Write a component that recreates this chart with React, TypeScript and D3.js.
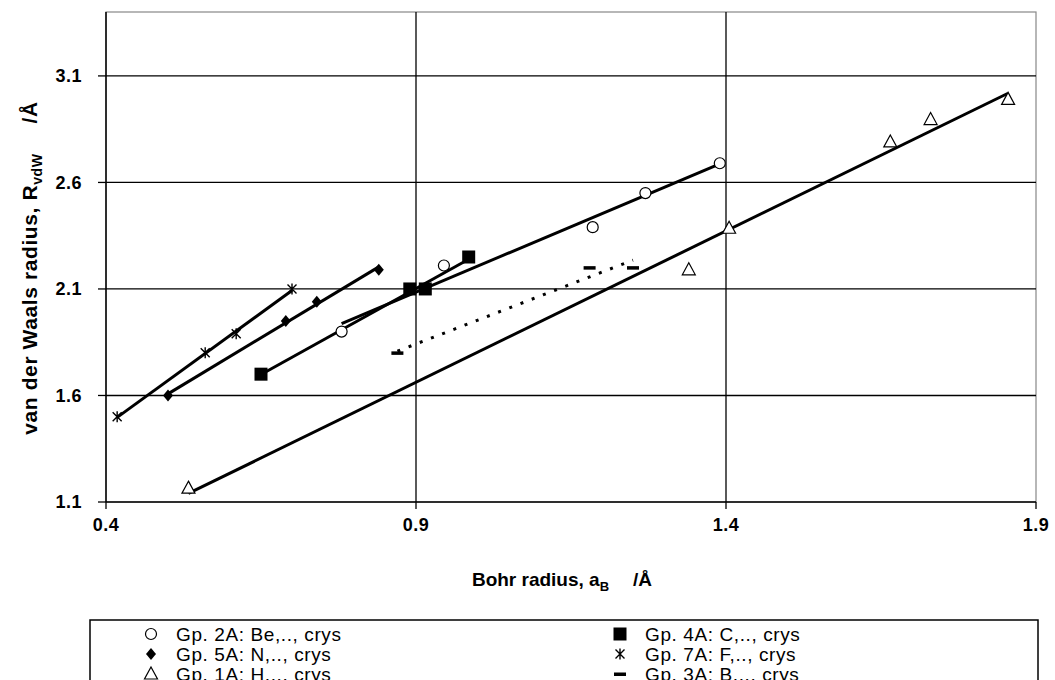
import React from "react";
import * as d3 from "d3";

// axis ticks
const xTicks = [0.4, 0.9, 1.4, 1.9];
const yTicks = [1.1, 1.6, 2.1, 2.6, 3.1];

// series: Bohr radius (x) vs van der Waals radius (y)
const beX = [0.78, 0.945, 1.185, 1.27, 1.39];
const beY = [1.9, 2.21, 2.39, 2.55, 2.69];
const nX = [0.5, 0.69, 0.74, 0.84];
const nY = [1.6, 1.95, 2.04, 2.19];
const hX = [0.533, 1.34, 1.405, 1.665, 1.73, 1.855];
const hY = [1.165, 2.19, 2.385, 2.79, 2.895, 2.99];
const cX = [0.65, 0.89, 0.915, 0.985];
const cY = [1.7, 2.1, 2.1, 2.25];
const fX = [0.418, 0.56, 0.61, 0.7];
const fY = [1.5, 1.8, 1.89, 2.1];
const bX = [0.87, 1.18, 1.25];
const bY = [1.8, 2.2, 2.2];

const series = [
  { label: "Gp. 2A: Be,.., crys", xs: beX, ys: beY, marker: "circle", dotted: false },
  { label: "Gp. 5A: N,.., crys", xs: nX, ys: nY, marker: "diamond", dotted: false },
  { label: "Gp. 1A: H,.., crys", xs: hX, ys: hY, marker: "triangle", dotted: false },
  { label: "Gp. 4A: C,.., crys", xs: cX, ys: cY, marker: "square", dotted: false },
  { label: "Gp. 7A: F,.., crys", xs: fX, ys: fY, marker: "star", dotted: false },
  { label: "Gp. 3A: B,.., crys", xs: bX, ys: bY, marker: "dash", dotted: true },
];

const W = 1055;
const H = 680;
const left = 106, right = 1036, top = 12, bottom = 502;

// least-squares trend line over the range of x
function trend(xs: number[], ys: number[]): [number, number][] {
  const mx = d3.mean(xs)!;
  const my = d3.mean(ys)!;
  let sxx = 0, sxy = 0;
  xs.forEach((x, i) => {
    sxx += (x - mx) * (x - mx);
    sxy += (x - mx) * (ys[i] - my);
  });
  const k = sxy / sxx;
  const [x0, x1] = d3.extent(xs) as [number, number];
  return [[x0, my + k * (x0 - mx)], [x1, my + k * (x1 - mx)]];
}

function Marker({ type, x, y }: { type: string; x: number; y: number }) {
  switch (type) {
    case "circle":
      return <circle cx={x} cy={y} r={5.5} fill="white" stroke="black" strokeWidth={1.2} />;
    case "diamond":
      return <path d={`M${x},${y - 6}L${x + 5},${y}L${x},${y + 6}L${x - 5},${y}Z`} fill="black" />;
    case "triangle":
      return <path d={`M${x},${y - 7}L${x + 6.5},${y + 5}L${x - 6.5},${y + 5}Z`} fill="white" stroke="black" strokeWidth={1.2} />;
    case "square":
      return <rect x={x - 6.5} y={y - 6.5} width={13} height={13} fill="black" />;
    case "star":
      return (
        <path
          d={`M${x - 4.5},${y - 4.5}L${x + 4.5},${y + 4.5}M${x + 4.5},${y - 4.5}L${x - 4.5},${y + 4.5}M${x},${y - 5.5}L${x},${y + 5.5}`}
          stroke="black" strokeWidth={1.4} fill="none" />
      );
    default:
      return <rect x={x - 6} y={y - 1.5} width={12} height={3.5} fill="black" />;
  }
}

export default function App() {
  const x = d3.scaleLinear().domain([0.4, 1.9]).range([left, right]);
  const y = d3.scaleLinear().domain([1.1, 3.4]).range([bottom, top]);
  const line = d3.line<[number, number]>().x((d) => x(d[0])).y((d) => y(d[1]));

  const font = "'Liberation Sans', Arial, sans-serif";

  return (
    <svg width={W} height={H} style={{ position: "absolute", left: 0, top: 0, background: "white" }}
      fontFamily={font}>
      <rect x={0} y={0} width={W} height={H} fill="white" />

      {/* plot frame */}
      <rect x={left} y={top} width={right - left} height={bottom - top} fill="none" stroke="#888" strokeWidth={1.2} />

      {/* grid */}
      {yTicks.slice(1).map((t) => (
        <line key={"gy" + t} x1={left} x2={right} y1={y(t)} y2={y(t)} stroke="black" strokeWidth={1.3} />
      ))}
      {xTicks.slice(1, -1).map((t) => (
        <line key={"gx" + t} x1={x(t)} x2={x(t)} y1={top} y2={bottom} stroke="black" strokeWidth={1.3} />
      ))}

      {/* axes */}
      <line x1={left} x2={left} y1={top} y2={bottom} stroke="black" strokeWidth={1.5} />
      <line x1={left} x2={right} y1={bottom} y2={bottom} stroke="black" strokeWidth={1.5} />
      {yTicks.map((t) => (
        <g key={"ty" + t}>
          <line x1={left - 8} x2={left} y1={y(t)} y2={y(t)} stroke="black" strokeWidth={1.3} />
          <text x={82} y={y(t)} dy="0.35em" textAnchor="end" fontSize={18} fontWeight="bold"
            letterSpacing={0.5}>{t.toFixed(1)}</text>
        </g>
      ))}
      {xTicks.map((t) => (
        <g key={"tx" + t}>
          <line x1={x(t)} x2={x(t)} y1={bottom} y2={bottom + 7} stroke="black" strokeWidth={1.3} />
          <text x={x(t)} y={bottom + 29} textAnchor="middle" fontSize={18} fontWeight="bold"
            letterSpacing={0.5}>{t.toFixed(1)}</text>
        </g>
      ))}

      {/* axis titles */}
      <text x={562} y={586} textAnchor="middle" fontSize={19} fontWeight="bold">
        Bohr radius, a<tspan fontSize={13} dy={5}>B</tspan>
        <tspan dy={-5} dx={24}>/Å</tspan>
      </text>
      <text transform="translate(37,268) rotate(-90)" textAnchor="middle" fontSize={21} fontWeight="bold"
        letterSpacing={0.6}>
        van der Waals radius, R<tspan fontSize={14} dy={5}>vdW</tspan>
        <tspan dy={-5} dx={30}>/Å</tspan>
      </text>

      {/* trend lines */}
      {series.map((s) => (
        <path key={"l" + s.label} d={line(trend(s.xs, s.ys)) || ""} fill="none" stroke="black"
          strokeWidth={3} strokeDasharray={s.dotted ? "3,9" : undefined} />
      ))}

      {/* points */}
      {series.map((s) =>
        s.xs.map((v, i) => <Marker key={s.label + i} type={s.marker} x={x(v)} y={y(s.ys[i])} />)
      )}

      {/* legend */}
      <rect x={90} y={620} width={948} height={80} fill="white" stroke="black" strokeWidth={1.5} />
      {series.map((s, i) => {
        const col = Math.floor(i / 3);
        const row = i % 3;
        const mx = col === 0 ? 151 : 620;
        const my = 634 + row * 20;
        return (
          <g key={"lg" + s.label}>
            <Marker type={s.marker} x={mx} y={my} />
            <text x={mx + 25} y={my} dy="0.36em" fontSize={19} letterSpacing={0.6}>{s.label}</text>
          </g>
        );
      })}
    </svg>
  );
}
